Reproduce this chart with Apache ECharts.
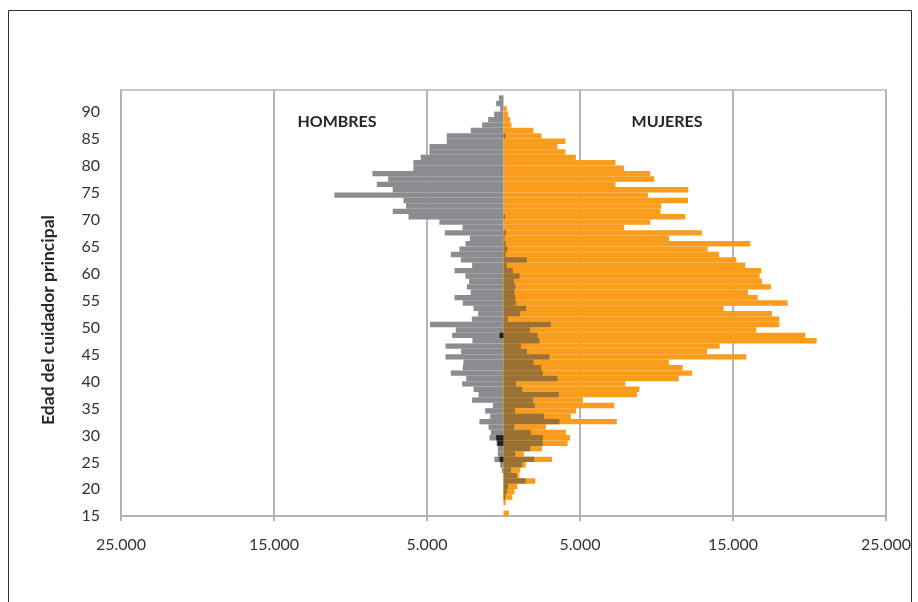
<!DOCTYPE html>
<html>
<head>
<meta charset="utf-8">
<script src="https://cdn.jsdelivr.net/npm/echarts@6/dist/echarts.min.js"></script>
<style>
html, body { margin: 0; padding: 0; background: #fff; }
#chart { width: 918px; height: 602px; }
</style>
</head>
<body>
<div id="chart"></div>
<script>
// edades 15..93 (eje de categorias)
var edades = ['15','16','17','18','19','20','21','22','23','24',
              '25','26','27','28','29','30','31','32','33','34',
              '35','36','37','38','39','40','41','42','43','44',
              '45','46','47','48','49','50','51','52','53','54',
              '55','56','57','58','59','60','61','62','63','64',
              '65','66','67','68','69','70','71','72','73','74',
              '75','76','77','78','79','80','81','82','83','84',
              '85','86','87','88','89','90','91','92','93'];

// hombres (se dibujan hacia la izquierda)
var hombres = [0, 0, 0, 0, 0, 0, 0, 0, 110, 220,
               590, 370, 370, 450, 915, 830, 980, 1570, 870, 1200,
               700, 2050, 1635, 1960, 2700, 2440, 3440, 2660, 2620, 3790,
               2770, 3790, 2030, 3360, 3120, 4800, 2070, 1660, 1960, 2660,
               3200, 2140, 2400, 2250, 2490, 3200, 2050, 2790, 3440, 2880,
               2490, 2200, 3840, 2680, 4190, 6210, 7240, 6370, 6540, 11050,
               7240, 8280, 7540, 8570, 5890, 5890, 5410, 4840, 4840, 3710,
               3710, 2140, 1400, 1000, 610, 220, 480, 300, 0];

var mujeres = [350, 0, 150, 580, 720, 900, 2080, 1025, 1090, 1460,
               3180, 1330, 2510, 4190, 4360, 4080, 2770, 7410, 4400, 4750,
               7240, 5190, 8720, 8890, 7960, 11450, 12320, 11710, 10810, 15870,
               13300, 14130, 20470, 19730, 16520, 18030, 18030, 17550, 14390, 18570,
               16610, 15980, 17480, 16900, 16740, 16850, 15800, 15220, 14080, 13340,
               16130, 10830, 12970, 7890, 9590, 11880, 10250, 10310, 12060, 9440,
               12080, 7320, 9850, 9590, 7890, 7320, 4730, 4050, 3530, 4050,
               2490, 1960, 520, 440, 305, 220, 0, 0, 0];

// serie superpuesta (marron, lado derecho)
var marron = [0, 0, 0, 120, 220, 300, 1450, 870, 480, 1200,
              2000, 760, 1745, 2570, 2570, 1790, 700, 3660, 2660, 760,
              2050, 1920, 3620, 1220, 830, 3530, 2570, 2460, 1960, 3010,
              1530, 1130, 2350, 2220, 1745, 3100, 280, 1090, 1480, 810,
              760, 710, 785, 680, 1050, 610, 220, 1530, 130, 260,
              130, 60, 150, 0, 0, 100, 0, 0, 0, 0,
              0, 0, 0, 0, 0, 0, 0, 0, 0, 0,
              130, 0, 0, 0, 0, 0, 0, 0, 0];

// serie superpuesta (negra, lado izquierdo)
var negro = [0, 0, 0, 0, 0, 0, 0, 0, 0, 0,
             260, 0, 0, 400, 480, 0, 0, 0, 0, 0,
             0, 0, 0, 0, 0, 0, 0, 0, 0, 0,
             0, 0, 0, 260, 0, 0, 0, 0, 0, 0,
             0, 0, 0, 0, 0, 0, 0, 0, 0, 0,
             0, 0, 0, 0, 0, 0, 0, 0, 0, 0,
             0, 0, 0, 0, 0, 0, 0, 0, 0, 0,
             0, 0, 0, 0, 0, 0, 0, 0, 0];

var marcasX = [-25000, -15000, -5000, 5000, 15000, 25000];

function miles(v) {
    return String(Math.abs(v)).replace(/\B(?=(\d{3})+(?!\d))/g, '.');
}
function neg(arr) {
    return arr.map(function (v) { return -v; });
}

var gridColor = '#b4b4b4';
var chart = echarts.init(document.getElementById('chart'));

var barBase = { type: 'bar', barGap: '-100%', barCategoryGap: '0%', silent: true };

chart.setOption({
    animation: false,
    textStyle: { fontFamily: 'Lato' },
    grid: { left: 121, right: 32, top: 90, bottom: 86, show: true, borderColor: gridColor, borderWidth: 1.5 },
    xAxis: {
        type: 'value', min: -25000, max: 25000, interval: 5000,
        axisLine: { show: true, lineStyle: { color: gridColor, width: 2 } },
        axisTick: { show: true, length: 5, customValues: marcasX, lineStyle: { color: gridColor, width: 2 } },
        axisLabel: { customValues: marcasX, formatter: miles, margin: 21, fontSize: 16, color: '#333' },
        splitLine: { show: true, lineStyle: { color: gridColor, width: 2 } }
    },
    yAxis: {
        type: 'category', data: edades,
        axisLine: { show: false, onZero: false },
        axisTick: { show: false },
        // etiquetas algo por debajo del centro de la banda, como en el original
        axisLabel: { interval: 4, fontSize: 16, color: '#333', margin: 21, verticalAlign: 'top', lineHeight: 6 }
    },
    series: [
        Object.assign({ name: 'Hombres', data: neg(hombres), itemStyle: { color: '#8b8c90' } }, barBase),
        Object.assign({ name: 'Mujeres', data: mujeres, itemStyle: { color: '#fa9d1c' } }, barBase),
        Object.assign({ name: 'marron', data: marron, itemStyle: { color: '#9b7233' } }, barBase),
        Object.assign({ name: 'negro', data: neg(negro), itemStyle: { color: '#231f20' } }, barBase)
    ],
    graphic: [
        { type: 'rect', silent: true, shape: { x: 8.5, y: 10.5, width: 903, height: 620 },
          style: { fill: 'none', stroke: '#333', lineWidth: 1 } },
        { type: 'text', x: 337, y: 122, style: { text: 'HOMBRES', fontFamily: 'Lato', fontWeight: 'bold', fontSize: 16,
          fill: '#262626', align: 'center', verticalAlign: 'middle' } },
        { type: 'text', x: 667, y: 122, style: { text: 'MUJERES', fontFamily: 'Lato', fontWeight: 'bold', fontSize: 16,
          fill: '#262626', align: 'center', verticalAlign: 'middle' } },
        { type: 'text', x: 48, y: 320, rotation: Math.PI / 2,
          style: { text: 'Edad del cuidador principal', fontFamily: 'Lato', fontWeight: 'bold', fontSize: 17.5,
          fill: '#262626', align: 'center', verticalAlign: 'middle' } }
    ]
});
</script>
</body>
</html>
